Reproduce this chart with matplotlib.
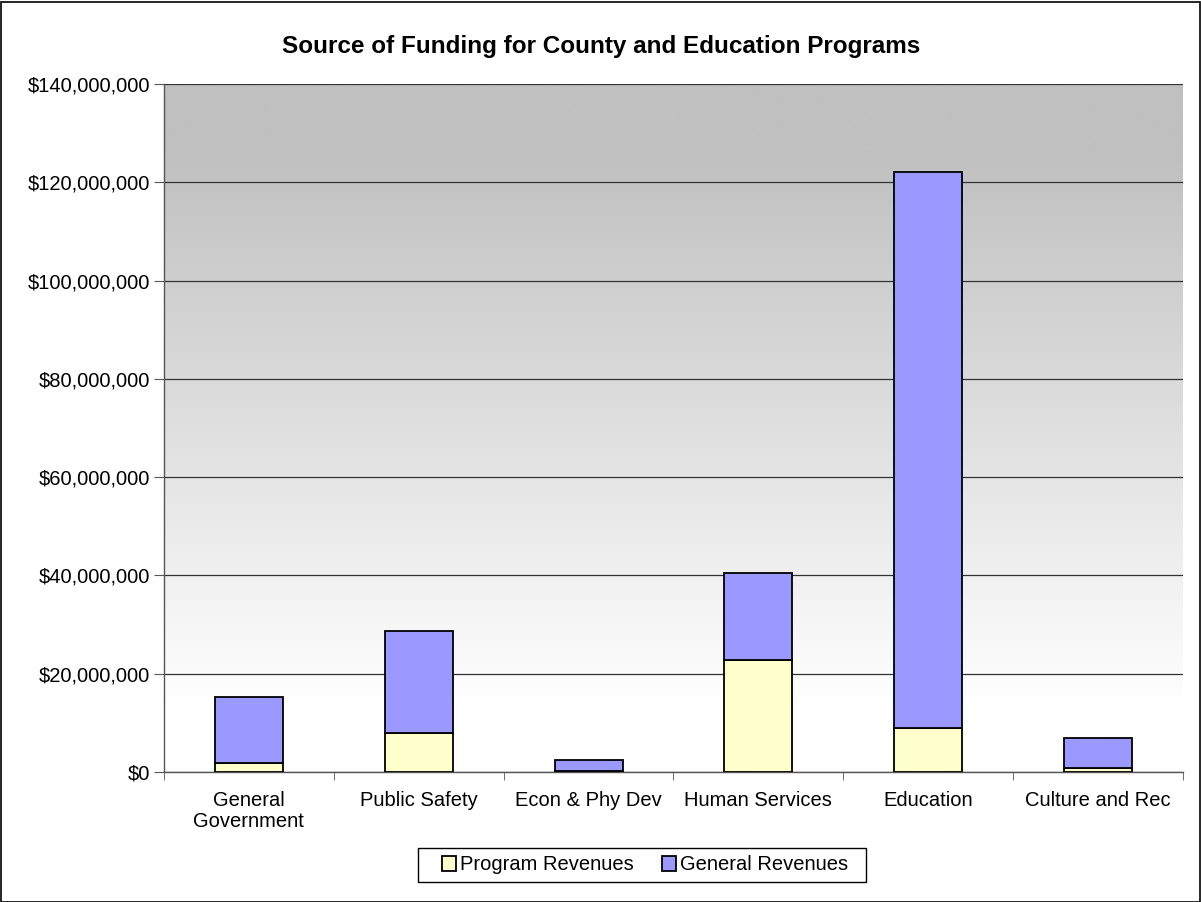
import matplotlib
matplotlib.use("Agg")
import matplotlib.pyplot as plt
import numpy as np
from matplotlib.ticker import FuncFormatter, MultipleLocator

plt.rcParams['font.family'] = ['Liberation Sans', 'DejaVu Sans']

categories = ["General\nGovernment", "Public Safety", "Econ & Phy Dev",
              "Human Services", "Education", "Culture and Rec"]
program_revenues = [1.9e6, 8.0e6, 0.2e6, 22.7e6, 9.0e6, 0.9e6]
general_revenues = [13.4e6, 20.7e6, 2.2e6, 17.7e6, 113.1e6, 6.0e6]

W, H = 1201, 902
fig = plt.figure(figsize=(W / 100, H / 100), dpi=100)
fig.patch.set_facecolor("white")

# outer chart border
fig.add_artist(plt.Rectangle((0.5 / W, 0.5 / H), 1 - 2 / W, 1 - 2 / H,
                             transform=fig.transFigure, fill=False,
                             edgecolor="black", linewidth=1.2))

ax = fig.add_axes([164 / W, 1 - 772 / H, (1183 - 164) / W, (772 - 84) / H])

# grey (top) to white (bottom) background gradient
grad = np.linspace(0, 1, 256).reshape(-1, 1)
top = np.array([192, 192, 192]) / 255
bottom = np.array([255, 255, 255]) / 255
t = np.clip((grad - 0.1) / 0.8, 0, 1)
img = top + (bottom - top) * t[..., None]
ax.imshow(img, extent=[-0.5, 5.5, 0, 140e6], aspect="auto", zorder=0,
          interpolation="bilinear")

x = np.arange(len(categories))
ax.bar(x, program_revenues, width=0.4, color="#ffffcc", edgecolor="black",
       linewidth=1.3, label="Program Revenues", zorder=3)
ax.bar(x, general_revenues, width=0.4, bottom=program_revenues,
       color="#9999ff", edgecolor="black", linewidth=1.3,
       label="General Revenues", zorder=3)

ax.set_xlim(-0.5, 5.5)
ax.set_ylim(0, 140e6)
ax.yaxis.set_major_locator(MultipleLocator(20e6))
ax.yaxis.set_major_formatter(FuncFormatter(lambda v, p: f"${v:,.0f}"))
ax.grid(axis="y", color="#333333", linewidth=0.9, zorder=1)
ax.set_axisbelow(True)

ax.set_xticks(x)
ax.set_xticklabels(categories, fontsize=14.5, linespacing=1.1)
ax.set_xticks(np.arange(-0.5, 6.0, 1.0), minor=True)
ax.tick_params(axis="x", which="major", length=0, pad=14)
ax.tick_params(axis="x", which="minor", length=6, color="#555555")
ax.tick_params(axis="y", length=7, color="#555555", labelsize=14.5, pad=3)

for side in ["top", "right"]:
    ax.spines[side].set_visible(False)
for side in ["left", "bottom"]:
    ax.spines[side].set_color("#555555")
    ax.spines[side].set_linewidth(1.0)

fig.text(601 / W, 1 - 47 / H, "Source of Funding for County and Education Programs",
         ha="center", va="center", fontsize=17.5, fontweight="bold")

# legend with a separately drawn, wider frame
leg = fig.legend(loc="center", bbox_to_anchor=(645 / W, 1 - 865 / H), ncol=2,
                 fontsize=14.5, frameon=False,
                 handlelength=0.7, handleheight=0.7, handletextpad=0.2,
                 columnspacing=1.4, borderpad=0.3)
fig.add_artist(plt.Rectangle((418 / W, 1 - 882 / H), 448 / W, 34 / H,
                             transform=fig.transFigure, fill=False,
                             edgecolor="black", linewidth=1.0))

fig.savefig("out.png", dpi=100)
